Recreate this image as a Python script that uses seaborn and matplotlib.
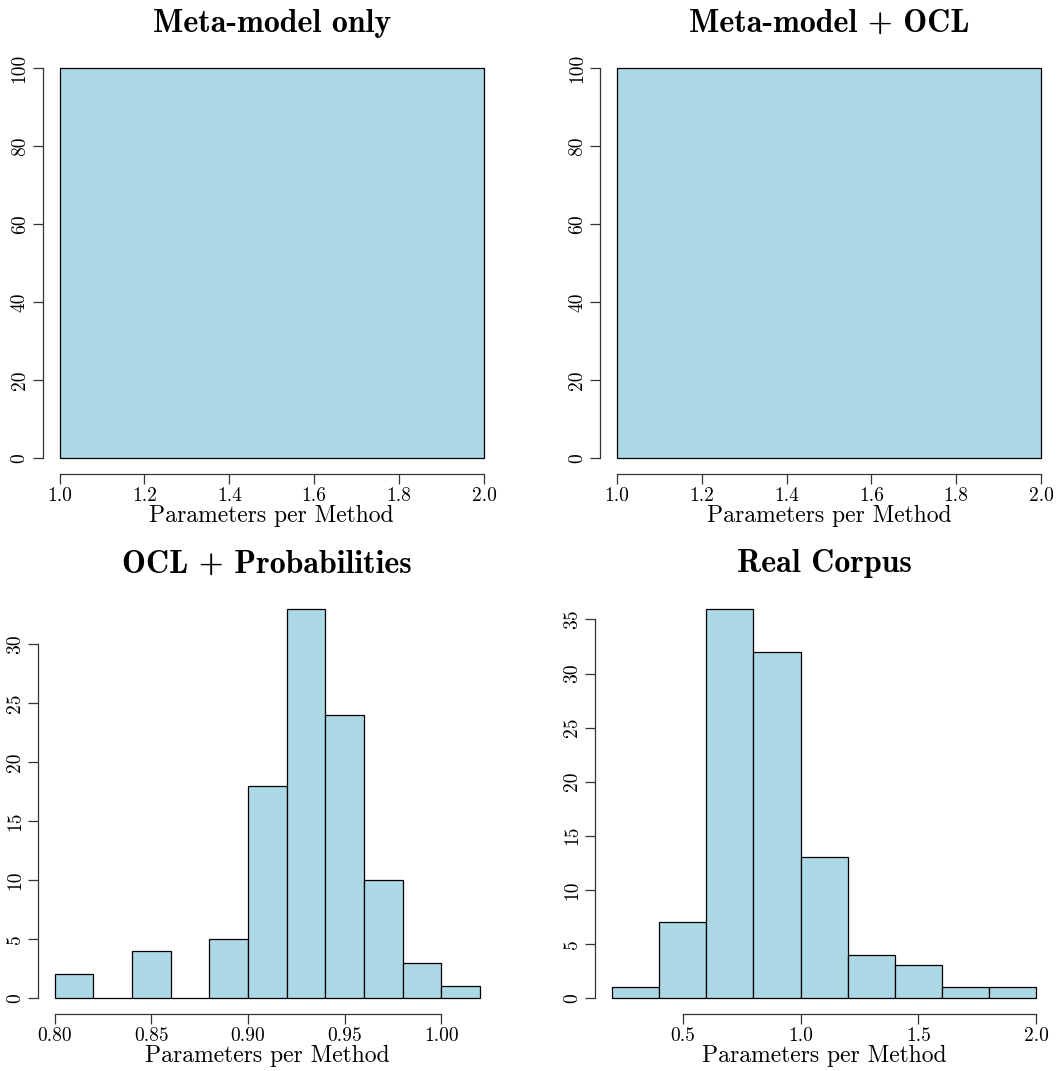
import numpy as np
import pandas as pd
import matplotlib
matplotlib.use("Agg")
import matplotlib.pyplot as plt
import seaborn as sns

# Histogram bin edges and counts for each corpus
meta_edges = [1.0, 2.0]
meta_counts = [100]

meta_ocl_edges = [1.0, 2.0]
meta_ocl_counts = [100]

ocl_prob_edges = [0.80, 0.82, 0.84, 0.86, 0.88, 0.90, 0.92, 0.94, 0.96, 0.98, 1.00, 1.02]
ocl_prob_counts = [2, 0, 4, 0, 5, 18, 33, 24, 10, 3, 1]

real_edges = [0.2, 0.4, 0.6, 0.8, 1.0, 1.2, 1.4, 1.6, 1.8, 2.0]
real_counts = [1, 7, 36, 32, 13, 4, 3, 1, 1]

titles = ["Meta-model only", "Meta-model + OCL", "OCL + Probabilities", "Real Corpus"]
xlabel = "Parameters per Method"

x_ticks = [
    [1.0, 1.2, 1.4, 1.6, 1.8, 2.0],
    [1.0, 1.2, 1.4, 1.6, 1.8, 2.0],
    [0.80, 0.85, 0.90, 0.95, 1.00],
    [0.5, 1.0, 1.5, 2.0],
]
x_ticklabels = [
    ["1.0", "1.2", "1.4", "1.6", "1.8", "2.0"],
    ["1.0", "1.2", "1.4", "1.6", "1.8", "2.0"],
    ["0.80", "0.85", "0.90", "0.95", "1.00"],
    ["0.5", "1.0", "1.5", "2.0"],
]
y_ticks = [
    [0, 20, 40, 60, 80, 100],
    [0, 20, 40, 60, 80, 100],
    [0, 5, 10, 15, 20, 25, 30],
    [0, 5, 10, 15, 20, 25, 30, 35],
]

panels = [
    (meta_edges, meta_counts),
    (meta_ocl_edges, meta_ocl_counts),
    (ocl_prob_edges, ocl_prob_counts),
    (real_edges, real_counts),
]

plt.rcParams["font.family"] = ["cmr10", "DejaVu Serif"]
plt.rcParams["axes.formatter.use_mathtext"] = True

W, H = 1061, 1071
fig = plt.figure(figsize=(W / 100, H / 100), dpi=100)

# plot regions in pixels: left, top, right, bottom
regions = [
    (42.6, 52.8, 501.0, 473.5),
    (600.0, 52.8, 1058.0, 473.5),
    (37.8, 593.1, 496.9, 1013.5),
    (594.9, 593.1, 1053.3, 1013.5),
]

tick_fs = 14
label_fs = 17
title_fs = 23
axis_col = "#333333"

for i, ((edges, counts), (l, t, r, b)) in enumerate(zip(panels, regions)):
    ax = fig.add_axes([l / W, 1 - b / H, (r - l) / W, (b - t) / H])
    centers = [(a + c) / 2 for a, c in zip(edges[:-1], edges[1:])]
    df = pd.DataFrame({"x": centers, "n": counts})
    sns.histplot(data=df, x="x", weights="n", bins=list(edges), stat="count",
                 color="#ADD8E6", edgecolor="black", linewidth=0.9, alpha=1.0,
                 ax=ax)
    # R-style axis extension of 4% on each side
    x0, x1 = edges[0], edges[-1]
    dx = (x1 - x0) * 0.04
    ymax = max(counts)
    dy = ymax * 0.04
    ax.set_xlim(x0 - dx, x1 + dx)
    ax.set_ylim(-dy, ymax + dy)

    ax.set_xticks(x_ticks[i], x_ticklabels[i])
    ax.set_yticks(y_ticks[i], [str(v) for v in y_ticks[i]])
    for lab in ax.get_yticklabels():
        lab.set_rotation(90)
        lab.set_va("center")
    ax.tick_params(axis="both", labelsize=tick_fs, length=7, width=0.9,
                   color=axis_col, direction="out")
    ax.tick_params(axis="x", pad=3)
    ax.tick_params(axis="y", pad=3)

    for s in ("top", "right"):
        ax.spines[s].set_visible(False)
    ax.spines["left"].set_bounds(y_ticks[i][0], y_ticks[i][-1])
    ax.spines["bottom"].set_bounds(x_ticks[i][0], x_ticks[i][-1])
    for s in ("left", "bottom"):
        ax.spines[s].set_color(axis_col)
        ax.spines[s].set_linewidth(0.9)

    ax.set_ylabel("")
    ax.set_xlabel(xlabel, fontsize=label_fs)
    ax.xaxis.label.set_va("baseline")
    ax.xaxis.set_label_coords(0.5, -48.5 / (b - t))

    ax.text(0.5, 1 + 20.8 / (b - t), titles[i],
            transform=ax.transAxes, ha="center", va="baseline",
            fontsize=title_fs, family=["cmb10", "DejaVu Serif"])

fig.savefig("out.png", dpi=100)
